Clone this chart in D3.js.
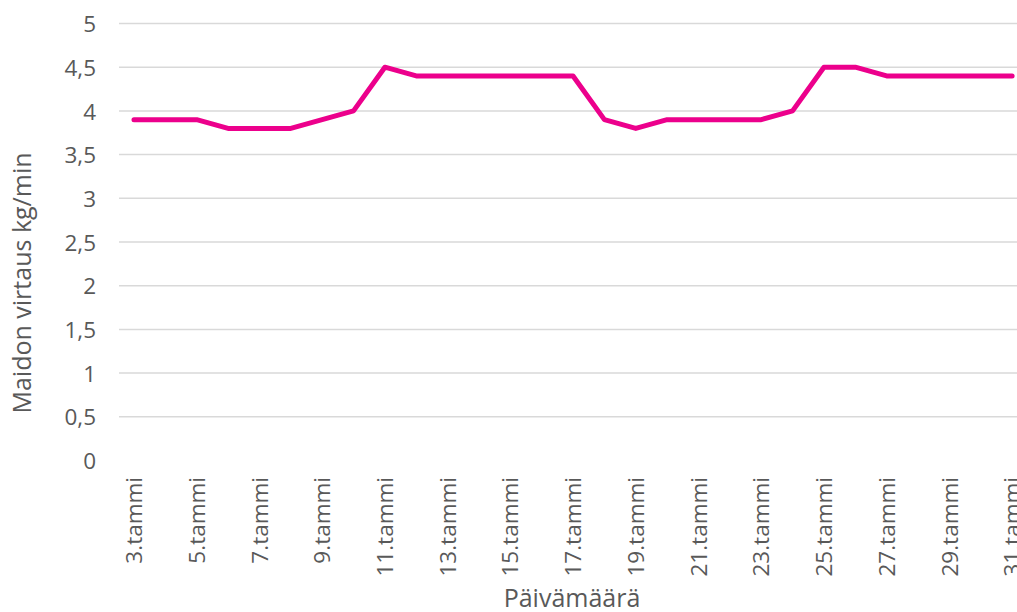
<!DOCTYPE html>
<html><head><meta charset="utf-8">
<script src="https://cdn.jsdelivr.net/npm/d3@7"></script>
<style>body{margin:0;background:#fff;overflow:hidden}svg{display:block}</style>
</head><body>
<script>
const days = [3,4,5,6,7,8,9,10,11,12,13,14,15,16,17,18,19,20,21,22,23,24,25,26,27,28,29,30,31];
const categories = days.map(d => d + ".tammi");
const values = [3.9,3.9,3.9,3.8,3.8,3.8,3.9,4.0,4.5,4.4,4.4,4.4,4.4,4.4,4.4,3.9,3.8,3.9,3.9,3.9,3.9,4.0,4.5,4.5,4.4,4.4,4.4,4.4,4.4];
const yTicks = [0,0.5,1,1.5,2,2.5,3,3.5,4,4.5,5];
const yTitle = "Maidon virtaus kg/min";
const xTitle = "Päivämäärä";

const W = 1017, H = 612;
const font = "'Open Sans', 'DejaVu Sans', sans-serif";
const svg = d3.select("body").append("svg").attr("width", W).attr("height", H);

const x = d3.scaleBand().domain(categories).range([118.3, 1027.8]);
const y = d3.scaleLinear().domain([0,5]).range([460.5, 23.5]);

// gridlines
svg.append("g").selectAll("line").data(yTicks.filter(t => t > 0)).join("line")
  .attr("x1", 119).attr("x2", W)
  .attr("y1", d => y(d)).attr("y2", d => y(d))
  .attr("stroke", "#d9d9d9").attr("stroke-width", 1.5);

// y axis labels
const yAxis = svg.append("g").attr("transform", "translate(96,0)")
  .call(d3.axisLeft(y).tickValues(yTicks).tickSize(0).tickFormat(d => String(d).replace(".", ",")));
yAxis.select(".domain").remove();
yAxis.selectAll("text").attr("font-family", font).attr("font-size", 22.5).attr("fill", "#595959").attr("dy", "0.36em").attr("x", 0);

// x axis labels
const xAxis = svg.append("g").attr("transform", "translate(0,0)")
  .call(d3.axisBottom(x).tickValues(categories.filter((c, i) => i % 2 === 0)).tickSize(0));
xAxis.select(".domain").remove();
xAxis.selectAll("text").attr("font-family", font).attr("font-size", 22.5).attr("fill", "#595959")
  .attr("transform", "rotate(-90)").attr("text-anchor", "end").attr("x", -477).attr("y", 0).attr("dy", "0.36em");

// line
const line = d3.line().x((d, i) => x(categories[i]) + x.bandwidth()/2).y(d => y(d));
svg.append("path").datum(values).attr("d", line)
  .attr("fill", "none").attr("stroke", "#EC008C").attr("stroke-width", 5)
  .attr("stroke-linejoin", "round").attr("stroke-linecap", "round");

// titles
svg.append("text").attr("transform", "translate(31,283) rotate(-90)").attr("text-anchor", "middle")
  .attr("font-family", font).attr("font-size", 25).attr("fill", "#595959").text(yTitle);
svg.append("text").attr("x", 572).attr("y", 607).attr("text-anchor", "middle")
  .attr("font-family", font).attr("font-size", 25).attr("fill", "#595959").text(xTitle);
</script>
</body></html>
